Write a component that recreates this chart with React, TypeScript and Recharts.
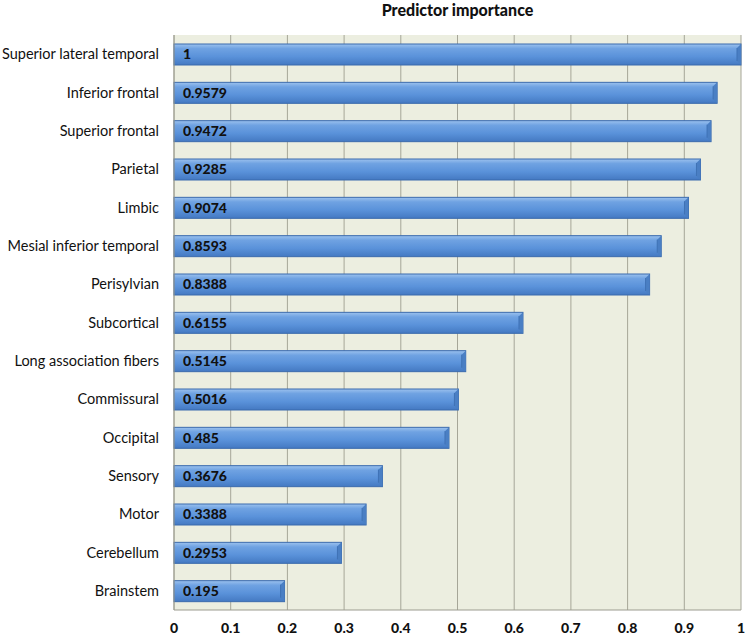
import { BarChart, Bar, XAxis, YAxis, CartesianGrid, LabelList } from 'recharts'

const regions = [
  'Superior lateral temporal',
  'Inferior frontal',
  'Superior frontal',
  'Parietal',
  'Limbic',
  'Mesial inferior temporal',
  'Perisylvian',
  'Subcortical',
  'Long association fibers',
  'Commissural',
  'Occipital',
  'Sensory',
  'Motor',
  'Cerebellum',
  'Brainstem',
]
const importance = [1, 0.9579, 0.9472, 0.9285, 0.9074, 0.8593, 0.8388, 0.6155, 0.5145, 0.5016, 0.485, 0.3676, 0.3388, 0.2953, 0.195]
const xTicks = [0, 0.1, 0.2, 0.3, 0.4, 0.5, 0.6, 0.7, 0.8, 0.9, 1]

const data = regions.map((name, i) => ({ name, value: importance[i] }))

const FONT = 'Lato, "Open Sans", sans-serif'

// bar with a small bevel on the right end, roughly like the office 3d style
const BevelBar = (props: any) => {
  const { x, y, width, height } = props
  if (!width || width <= 0) return null
  const b = 4
  return (
    <g>
      <rect x={x} y={y} width={width} height={height} fill="url(#barGrad)" stroke="#3B6BAD" strokeWidth={1} />
      <polygon
        points={`${x + width - b},${y + b} ${x + width},${y} ${x + width},${y + height} ${x + width - b},${y + height - b}`}
        fill="#4A7FC4"
      />
      <line x1={x + width - b} y1={y + b} x2={x + width - b} y2={y + height - b} stroke="#3F72B5" strokeWidth={1} />
    </g>
  )
}

export default function App() {
  return (
    <div style={{ position: 'absolute', left: 0, top: 0, width: 746, height: 637, background: '#fff' }}>
      <div
        style={{
          position: 'absolute',
          left: 174,
          width: 567,
          top: 0,
          textAlign: 'center',
          fontFamily: FONT,
          fontWeight: 900,
          fontSize: 16,
          color: '#111',
        }}
      >
        Predictor importance
      </div>
      <BarChart
        width={746}
        height={637}
        data={data}
        layout="vertical"
        margin={{ top: 35, right: 5, left: 0, bottom: 0 }}
      >
        <defs>
          <linearGradient id="barGrad" x1="0" y1="0" x2="0" y2="1">
            <stop offset="0%" stopColor="#9CC2EE" />
            <stop offset="22%" stopColor="#6FA2E2" />
            <stop offset="60%" stopColor="#5A92DA" />
            <stop offset="100%" stopColor="#4479C2" />
          </linearGradient>
        </defs>
        <CartesianGrid horizontal={false} fill="#ECEEE0" stroke="#A6A698" strokeOpacity={1} />
        <XAxis
          type="number"
          domain={[0, 1]}
          ticks={xTicks}
          height={27}
          axisLine={{ stroke: '#9C9C90' }}
          tickLine={false}
          tickSize={0}
          tickMargin={13}
          tick={{ fill: '#111', fontSize: 14, fontWeight: 900, fontFamily: FONT }}
          interval={0}
        />
        <YAxis
          type="category"
          dataKey="name"
          width={174}
          axisLine={{ stroke: '#9C9C90' }}
          tickLine={false}
          tickSize={0}
          tickMargin={15}
          tick={{ fill: '#111', fontSize: 14.5, fontFamily: FONT }}
          interval={0}
        />
        <Bar dataKey="value" barSize={21} shape={<BevelBar />} isAnimationActive={false}>
          <LabelList
            dataKey="value"
            position="insideLeft"
            offset={9}
            fill="#111"
            fontSize={14}
            fontWeight={900}
            fontFamily={FONT}
          />
        </Bar>
      </BarChart>
    </div>
  )
}
